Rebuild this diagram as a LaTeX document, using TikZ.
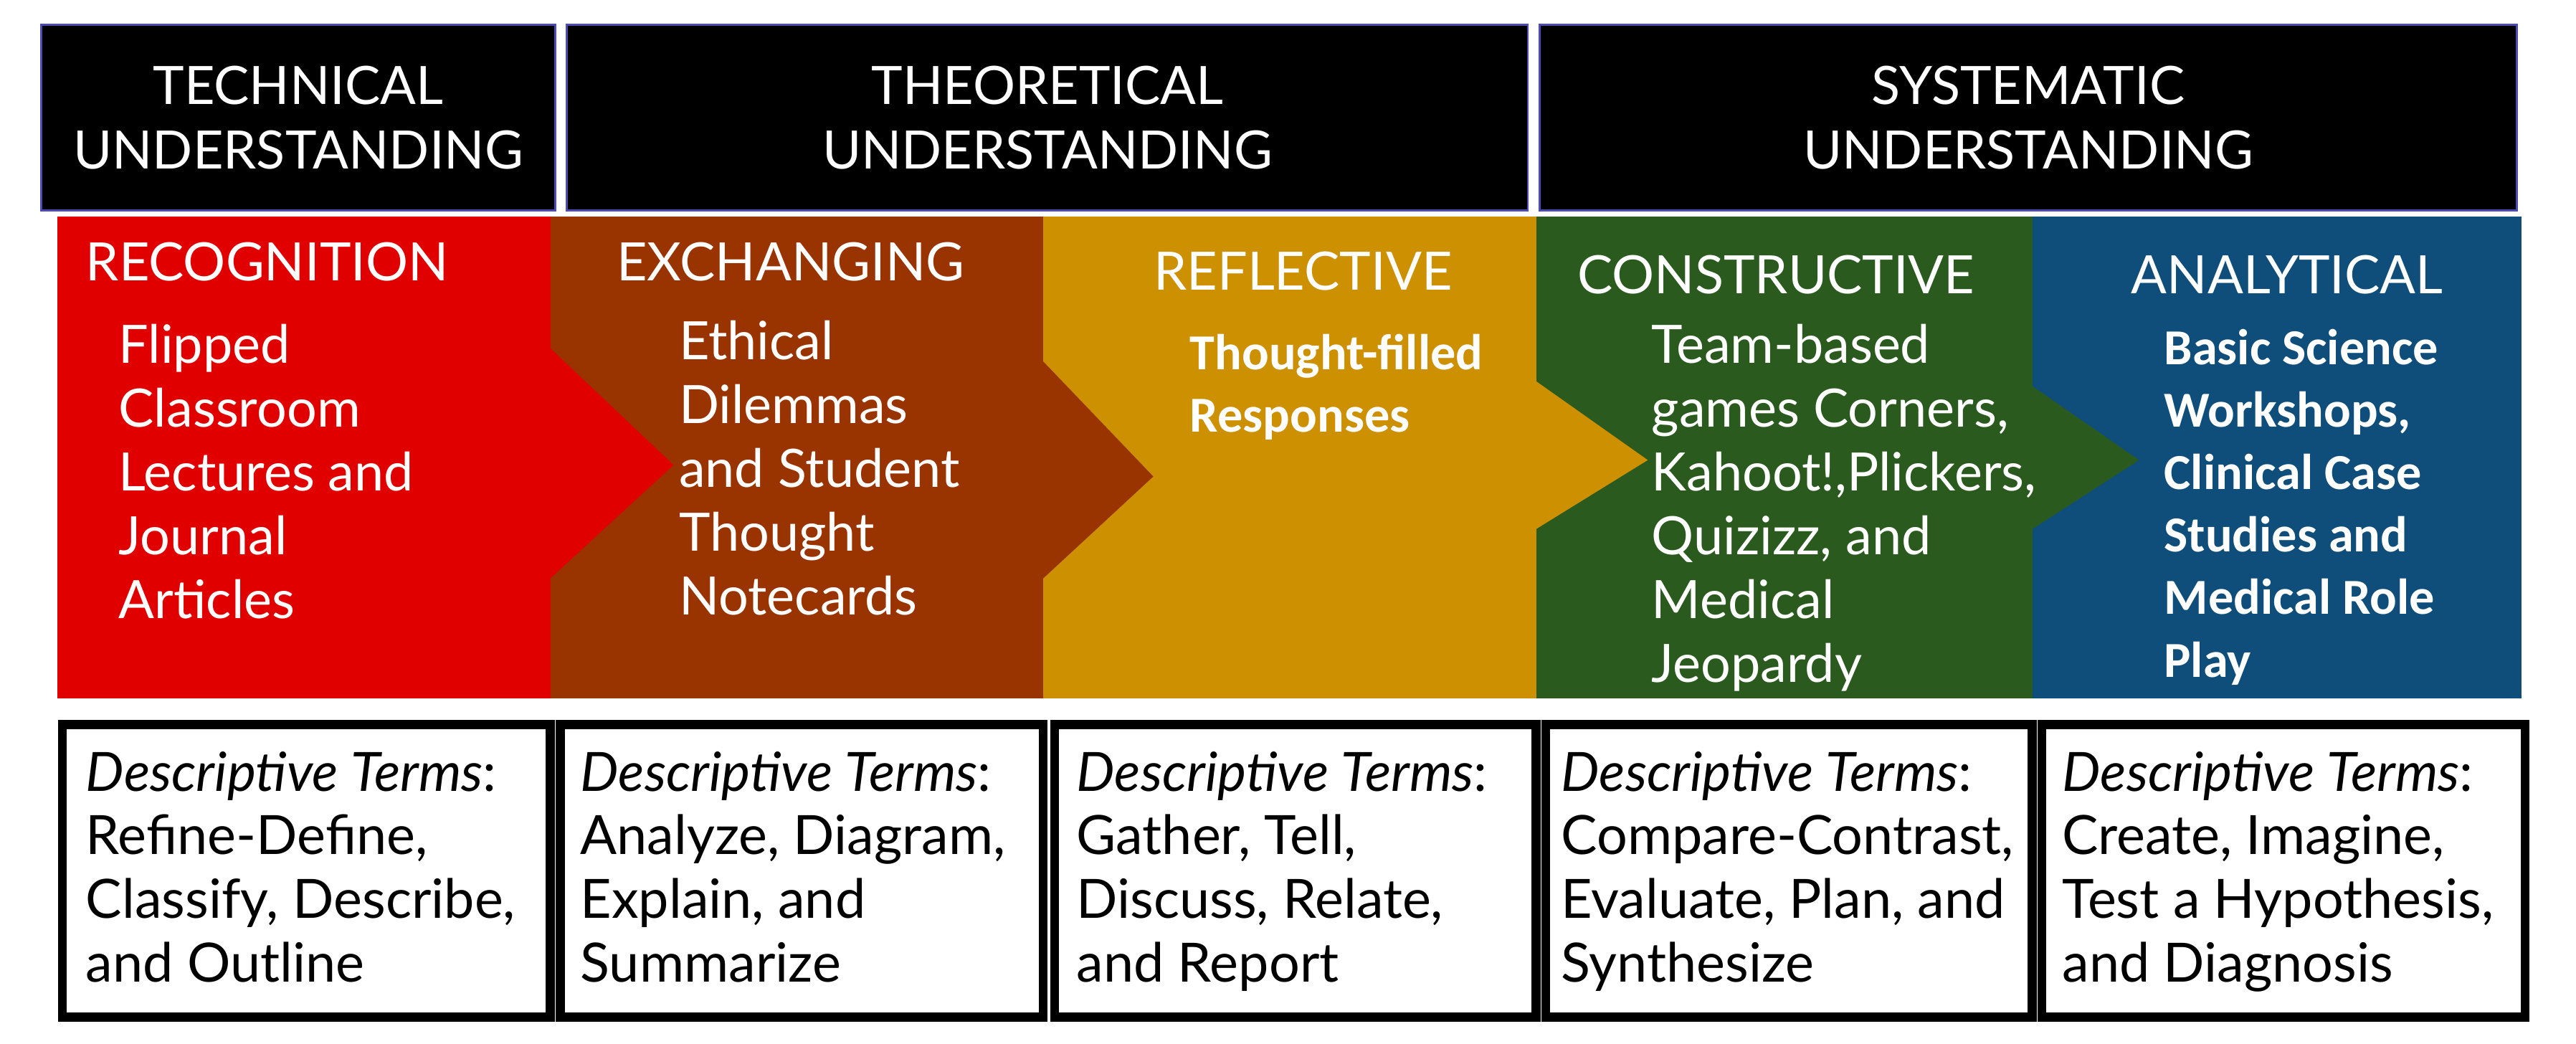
\documentclass[tikz,border=0pt]{standalone}
\usepackage{fontspec}
\setmainfont{Lato}
\newfontfamily\calib{Carlito}
\definecolor{recred}{HTML}{E00000}
\definecolor{exbrown}{HTML}{993300}
\definecolor{refgold}{HTML}{CC9000}
\definecolor{congreen}{HTML}{2A5A1E}
\definecolor{anblue}{HTML}{0F4E7A}
\tikzset{
  head/.style={fill=black, draw=blue!40!gray, line width=0.8pt, text=white, align=center, font=\fontsize{21}{25.5}\selectfont},
  title/.style={anchor=north west, text=white, inner sep=0pt, font=\fontsize{21}{25}\selectfont},
  body/.style={anchor=north west, text=white, inner sep=0pt, align=left, font=\fontsize{21}{25.3}\selectfont},
  cbody/.style={anchor=north west, text=white, inner sep=0pt, align=left, font=\calib\bfseries\fontsize{20}{24.8}\selectfont},
  termtext/.style={anchor=north west, inner sep=0pt, align=left, font=\fontsize{21.5}{25.3}\selectfont}
}
\begin{document}
\begin{tikzpicture}[x=0.022915cm, y=-0.022915cm]
  \useasboundingbox (0,0) rectangle (1568,635);
  % header boxes
  \draw[head] (25,15) rectangle (338,128) node[midway] (h1) {TECHNICAL\\UNDERSTANDING};
  \draw[head] (345,15) rectangle (930,128) node[midway] (h2) {THEORETICAL\\UNDERSTANDING};
  \draw[head] (937,15) rectangle (1532,128) node[midway] (h3) {SYSTEMATIC\\UNDERSTANDING};

  % coloured band
  \fill[recred] (35,132) rectangle (335,425);
  \fill[exbrown] (335,132) rectangle (635,425);
  \fill[refgold] (635,132) rectangle (935,425);
  \fill[congreen] (935,132) rectangle (1237,425);
  \fill[anblue] (1237,132) rectangle (1535,425);
  \fill[recred] (335,212) -- (410,283) -- (335,352) -- cycle;
  \fill[exbrown] (635,220) -- (702,290) -- (635,352) -- cycle;
  \fill[refgold] (935,232) -- (1003,280) -- (935,322) -- cycle;
  \fill[congreen] (1237,235) -- (1302,280) -- (1237,322) -- cycle;

  \node[title] (t1) at (52,147) {RECOGNITION};
  \node[body] (b1) at (72,197) {Flipped\\Classroom\\Lectures and\\Journal\\Articles};
  \node[title] (t2) at (375,147) {EXCHANGING};
  \node[body] (b2) at (413,195) {Ethical\\Dilemmas\\and Student\\Thought\\Notecards};
  \node[title] (t3) at (702,153) {REFLECTIVE};
  \node[cbody] (b3) at (724,203) {Thought-filled\\Responses};
  \node[title] (t4) at (960,155) {CONSTRUCTIVE};
  \node[body] (b4) at (1005,197) {Team-based\\games Corners,\\Kahoot!,Plickers,\\Quizizz, and\\Medical\\Jeopardy};
  \node[title] (t5) at (1297,155) {ANALYTICAL};
  \node[cbody] (b5) at (1317,200) {Basic Science\\Workshops,\\Clinical Case\\Studies and\\Medical Role\\Play};

  % descriptive terms
  \draw[draw=black, line width=3.5pt, fill=white] (38,441) rectangle (335,619);
  \draw[draw=black, line width=3.5pt, fill=white] (341,441) rectangle (635,619);
  \draw[draw=black, line width=3.5pt, fill=white] (642,441) rectangle (935,619);
  \draw[draw=black, line width=3.5pt, fill=white] (941,441) rectangle (1237,619);
  \draw[draw=black, line width=3.5pt, fill=white] (1243,441) rectangle (1537,619);
  \node[termtext] (d1) at (52,457) {\textit{Descriptive Terms}:\\Refine-Define,\\Classify, Describe,\\and Outline};
  \node[termtext] (d2) at (353,457) {\textit{Descriptive Terms}:\\Analyze, Diagram,\\Explain, and\\Summarize};
  \node[termtext] (d3) at (655,457) {\textit{Descriptive Terms}:\\Gather, Tell,\\Discuss, Relate,\\and Report};
  \node[termtext] (d4) at (950,457) {\textit{Descriptive Terms}:\\Compare-Contrast,\\Evaluate, Plan, and\\Synthesize};
  \node[termtext] (d5) at (1255,457) {\textit{Descriptive Terms}:\\Create, Imagine,\\Test a Hypothesis,\\and Diagnosis};
\end{tikzpicture}
\end{document}
